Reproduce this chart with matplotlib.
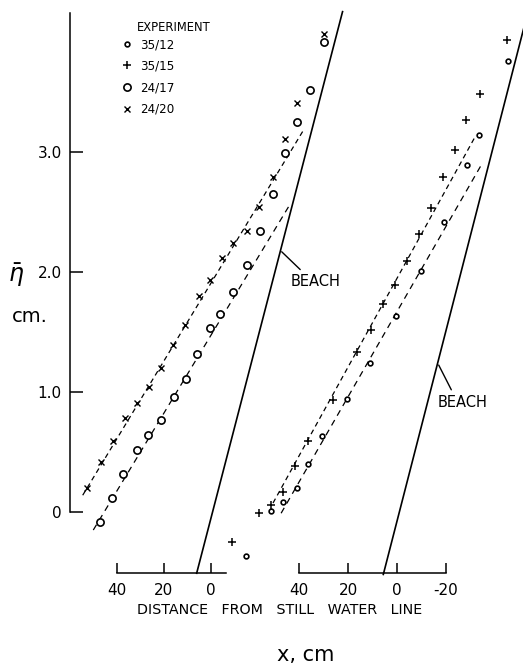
import matplotlib
matplotlib.use("Agg")
import matplotlib.pyplot as plt

# ---------------- data ----------------
# Left panel: experiments 24/17 and 24/20  (x in cm, mean water level eta in cm)
x_2420 = [52.9, 46.9, 41.6, 36.6, 31.6, 26.4, 21.4, 16.3, 11.1, 5.1, 0.4, -4.5,
          -9.4, -15.2, -20.6, -26.5, -31.7, -36.6, -48.2]
eta_2420 = [0.20, 0.42, 0.59, 0.78, 0.91, 1.04, 1.20, 1.39, 1.56, 1.80, 1.93, 2.12,
            2.24, 2.34, 2.54, 2.79, 3.11, 3.41, 3.98]
x_2417 = [47.2, 42.0, 37.3, 31.6, 26.7, 21.4, 15.7, 10.8, 5.8, 0.4, -3.8, -9.5,
          -15.4, -20.9, -26.5, -31.5, -36.7, -42.1, -48.1]
eta_2417 = [-0.08, 0.12, 0.32, 0.52, 0.64, 0.77, 0.96, 1.11, 1.32, 1.53, 1.65, 1.83,
            2.06, 2.34, 2.65, 2.99, 3.25, 3.52, 3.92]

# Right panel: experiments 35/12 and 35/15
x_3515 = [67.5, 56.2, 51.6, 46.7, 41.6, 36.2, 26.3, 16.3, 10.8, 5.7, 0.8, -4.1,
          -9.0, -13.9, -18.9, -23.8, -28.3, -34.0, -45.0]
eta_3515 = [-0.25, -0.01, 0.06, 0.17, 0.38, 0.59, 0.93, 1.33, 1.52, 1.73, 1.89, 2.09,
            2.32, 2.53, 2.79, 3.02, 3.27, 3.48, 3.93]
x_3512 = [61.8, 51.4, 46.4, 40.9, 36.2, 30.7, 20.4, 11.0, 0.5, -9.7, -19.1, -28.6,
          -33.6, -45.1]
eta_3512 = [-0.37, 0.01, 0.08, 0.20, 0.40, 0.63, 0.94, 1.24, 1.63, 2.01, 2.42, 2.89,
            3.14, 3.76]

# dashed fitted lines (end points)
fit_2420_x = [54.6, -39.6]
fit_2420_eta = [0.14, 3.19]
fit_2417_x = [50.1, -33.2]
fit_2417_eta = [-0.15, 2.55]
fit_3515_x = [50.6, -32.2]
fit_3515_eta = [0.075, 3.14]
fit_3512_x = [47.3, -34.6]
fit_3512_eta = [-0.01, 2.90]

# beach profiles
beach_left_x = [6.1, -56.0]
beach_left_eta = [-0.51, 4.17]
beach_right_x = [5.6, -54.7]
beach_right_eta = [-0.52, 4.27]

# ticks / labels
yticks = [0, 1, 2, 3]
ytick_labels = ["0", "1.0", "2.0", "3.0"]
xticks_left = [40, 20, 0]
xtick_labels_left = ["40", "20", "0"]
xticks_right = [40, 20, 0, -20]
xtick_labels_right = ["40", "20", "0", "-20"]
legend_labels = ["35/12", "35/15", "24/17", "24/20"]

# ---------------- figure ----------------
plt.rcParams["font.family"] = ["DejaVu Sans"]
plt.rcParams["mathtext.fontset"] = "dejavusans"

W, H, DPI = 523, 669, 100
fig = plt.figure(figsize=(W / DPI, H / DPI), dpi=DPI)
fig.patch.set_facecolor("white")


def fx(px):
    return px / W


def fy(py):
    return 1 - py / H


ax1 = fig.add_axes([0, 0, 1, 1])
ax2 = fig.add_axes([0, 0, 1, 1])
ax2.patch.set_visible(False)

ylim = (-1.308, 4.267)
ax1.set_xlim(89.8, -132.8)
ax1.set_ylim(*ylim)
ax2.set_xlim(162.0, -51.4)
ax2.set_ylim(*ylim)

LW = 1.1
for ax in (ax1, ax2):
    ax.spines["top"].set_visible(False)
    ax.spines["right"].set_visible(False)
    ax.spines["bottom"].set_position(("data", -0.51))
    ax.spines["bottom"].set_linewidth(LW)
    ax.tick_params(axis="x", direction="in", length=7, width=LW, pad=7,
                   labelsize=11)

ax1.spines["left"].set_position(("data", 60.0))
ax1.spines["left"].set_bounds(0, 4.16)
ax1.spines["left"].set_linewidth(LW)
ax1.spines["bottom"].set_bounds(40, -6.4)
ax1.set_yticks(yticks, labels=ytick_labels)
ax1.tick_params(axis="y", direction="in", length=9.5, width=LW, pad=6,
                labelsize=11)
ax1.set_xticks(xticks_left, labels=xtick_labels_left)

ax2.spines["left"].set_visible(False)
ax2.spines["bottom"].set_bounds(40, -20)
ax2.set_yticks([])
ax2.set_xticks(xticks_right, labels=xtick_labels_right)

# fitted dashed lines
ax1.plot(fit_2420_x, fit_2420_eta, color="k", lw=0.9, ls=(0, (4, 3)), zorder=2)
ax1.plot(fit_2417_x, fit_2417_eta, color="k", lw=0.9, ls=(0, (5, 4)), zorder=2)
ax2.plot(fit_3515_x, fit_3515_eta, color="k", lw=0.9, ls=(0, (4, 3)), zorder=2)
ax2.plot(fit_3512_x, fit_3512_eta, color="k", lw=0.9, ls=(0, (5, 4)), zorder=2)

# beaches
ax1.plot(beach_left_x, beach_left_eta, color="k", lw=1.2, zorder=2)
ax2.plot(beach_right_x, beach_right_eta, color="k", lw=1.2, zorder=2)

# measured points
m2420, = ax1.plot(x_2420, eta_2420, ls="none", marker="x", ms=4, mew=1.0,
                  color="k", zorder=3)
m2417, = ax1.plot(x_2417, eta_2417, ls="none", marker="o", ms=5.2, mew=1.2,
                  mfc="white", mec="k", zorder=3)
m3515, = ax2.plot(x_3515, eta_3515, ls="none", marker="+", ms=6, mew=1.1,
                  color="k", zorder=3)
m3512, = ax2.plot(x_3512, eta_3512, ls="none", marker="o", ms=3.4, mew=1.2,
                  mfc="white", mec="k", zorder=3)

# BEACH labels
ax1.annotate("BEACH", xy=(-30.1, 2.169), xytext=(-44.3, 1.919),
             ha="center", va="center", fontsize=10.5,
             arrowprops=dict(arrowstyle="-", lw=1.0, color="k",
                             relpos=(0.3, 1.0), shrinkA=2, shrinkB=0))
ax2.annotate("BEACH", xy=(-17.0, 1.225), xytext=(-26.7, 0.9125),
             ha="center", va="center", fontsize=10.5,
             arrowprops=dict(arrowstyle="-", lw=1.0, color="k",
                             relpos=(0.33, 1.0), shrinkA=2, shrinkB=0))

# legend
fig.text(fx(137), fy(31), "EXPERIMENT", fontsize=8.3, ha="left", va="baseline")
ax2.legend(handles=[m3512, m3515, m2417, m2420], labels=legend_labels,
           loc="upper left", bbox_to_anchor=(fx(121), fy(38)),
           bbox_transform=fig.transFigure, frameon=False, fontsize=8.6,
           handlelength=1.0, handletextpad=0.6, labelspacing=0.72,
           borderpad=0, borderaxespad=0)

# axis titles
fig.text(fx(16), fy(275), r"$\bar{\eta}$", fontsize=17, ha="center", va="center")
fig.text(fx(30), fy(322), "cm.", fontsize=14, ha="center", va="baseline")
fig.text(fx(280), fy(614), "DISTANCE   FROM   STILL   WATER   LINE",
         fontsize=10.3, ha="center", va="baseline")
fig.text(fx(306), fy(661), "x, cm", fontsize=15, ha="center", va="baseline")

fig.savefig("out.png", dpi=DPI, facecolor="white")
